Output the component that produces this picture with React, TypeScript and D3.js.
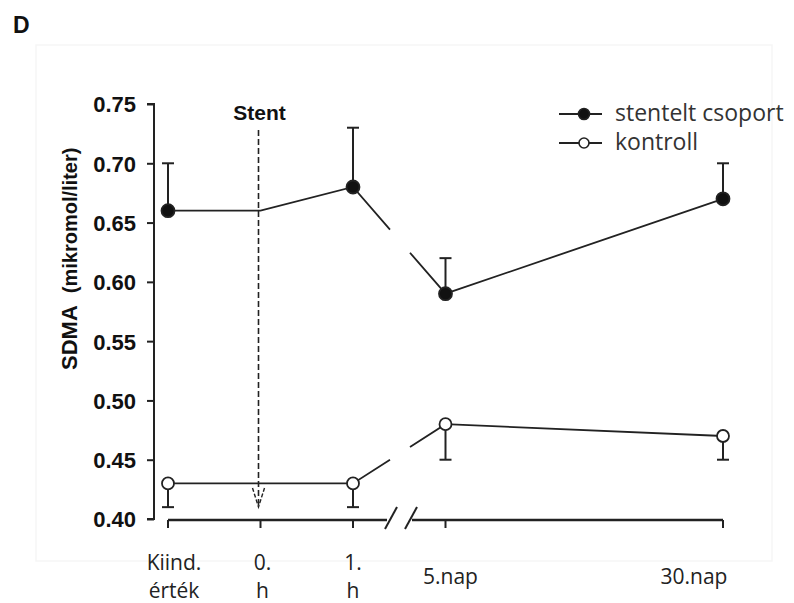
import { useRef, useEffect } from 'react'
import * as d3 from 'd3'

// time points along the x axis (slot = position on the broken axis)
const categories = [['Kiind.', 'érték'], ['0.', 'h'], ['1.', 'h'], ['5.nap'], ['30.nap']]
const slots = [0, 1, 2, 3, 6]
const hasMarker = [true, false, true, true, true]

const stentMean = [0.66, 0.66, 0.68, 0.59, 0.67]
const stentUpper = [0.7, null, 0.73, 0.62, 0.7]
const kontrollMean = [0.43, 0.43, 0.43, 0.48, 0.47]
const kontrollLower = [0.41, null, 0.41, 0.45, 0.45]

const yTicks = [0.4, 0.45, 0.5, 0.55, 0.6, 0.65, 0.7, 0.75]
const legendLabels = ['stentelt csoport', 'kontroll']

const width = 794
const height = 603
const ink = '#222'

function draw(target) {
  const svg = d3.select(target)
  svg.selectAll('*').remove()

  const x = d3.scaleLinear().domain([0, 6]).range([168, 723])
  const y = d3.scaleLinear().domain([0.4, 0.75]).range([519, 104])
  const breakLo = 390
  const breakHi = 410

  // faint frame
  svg.append('rect').attr('x', 36).attr('y', 45).attr('width', 736).attr('height', 516)
    .attr('fill', 'none').attr('stroke', '#f6f6f6').attr('stroke-width', 1.5)

  svg.append('text').attr('x', 13).attr('y', 33).text('D')
    .attr('font-family', 'Liberation Sans, Arial, sans-serif').attr('font-weight', 'bold')
    .attr('font-size', 23).attr('fill', '#111')

  // y axis
  const yAxis = d3.axisLeft(y).tickValues(yTicks).tickSize(7).tickPadding(11).tickFormat(d3.format('.2f'))
  const gy = svg.append('g').attr('transform', 'translate(154,0)').call(yAxis)
  gy.select('.domain').attr('d', `M-7,${y(0.75)}H0V${y(0.4)}H-7`).attr('stroke', ink).attr('stroke-width', 2)
  gy.selectAll('.tick line').attr('stroke', ink).attr('stroke-width', 2)
  gy.selectAll('.tick text')
    .attr('font-family', 'Liberation Sans, Arial, sans-serif').attr('font-weight', 'bold')
    .attr('font-size', 22).attr('fill', '#111').attr('dy', '0.36em')

  // y label
  const yl = svg.append('text').attr('transform', 'translate(77,370) rotate(-90)')
    .attr('font-family', 'Liberation Sans, Arial, sans-serif').attr('font-weight', 'bold').attr('fill', '#111')
  yl.append('tspan').attr('font-size', 22).text('SDMA')
  yl.append('tspan').attr('font-size', 20).attr('dx', 12).text('(mikromol/liter)')

  // x axis with break
  const xa = svg.append('g').attr('stroke', ink).attr('stroke-width', 2.5).attr('fill', 'none')
  xa.append('line').attr('x1', x(0)).attr('x2', breakLo - 3).attr('y1', 520).attr('y2', 520)
  xa.append('line').attr('x1', breakHi + 2).attr('x2', x(6)).attr('y1', 520).attr('y2', 520)
  slots.forEach((s) => {
    xa.append('line').attr('x1', x(s)).attr('x2', x(s)).attr('y1', 520).attr('y2', 528).attr('stroke-width', 2)
  })
  ;[breakLo - 5, breakHi - 5].forEach((bx) => {
    xa.append('line').attr('x1', bx).attr('y1', 529).attr('x2', bx + 12).attr('y2', 507).attr('stroke-width', 2)
  })

  // x labels
  const labelDx = [6, 2, 0, 5, -29]
  const labelY = [570, 570, 570, 584, 584]
  categories.forEach((lines, i) => {
    const t = svg.append('text').attr('x', x(slots[i]) + labelDx[i]).attr('y', labelY[i])
      .attr('text-anchor', 'middle').attr('font-family', 'Open Sans, sans-serif')
      .attr('font-size', 21).attr('fill', '#222')
    lines.forEach((l, j) => {
      t.append('tspan').attr('x', x(slots[i]) + labelDx[i]).attr('dy', j === 0 ? 0 : 28).text(l)
    })
  })

  // stent marker
  const sx = x(1) - 2
  svg.append('line').attr('x1', sx).attr('x2', sx).attr('y1', 130).attr('y2', 505)
    .attr('stroke', ink).attr('stroke-width', 1.6).attr('stroke-dasharray', '6,3')
  svg.append('path').attr('d', `M${sx - 6},488L${sx},507L${sx + 6},488`)
    .attr('fill', 'none').attr('stroke', ink).attr('stroke-width', 1.4).attr('stroke-dasharray', '4,2')
  svg.append('text').attr('x', sx + 1).attr('y', 120).attr('text-anchor', 'middle').text('Stent')
    .attr('font-family', 'Liberation Sans, Arial, sans-serif').attr('font-weight', 'bold')
    .attr('font-size', 21).attr('fill', '#111')

  const line = d3.line().x((d) => d[0]).y((d) => d[1])

  function series(mean, err, filled) {
    const pts = mean.map((v, i) => [x(slots[i]), y(v)])
    const a = pts[2]
    const b = pts[3]
    const at = (px) => [px, a[1] + ((b[1] - a[1]) * (px - a[0])) / (b[0] - a[0])]
    const g = svg.append('g')
    g.append('path').attr('d', line([pts[0], pts[1], pts[2], at(breakLo)]))
      .attr('fill', 'none').attr('stroke', ink).attr('stroke-width', 1.8)
    g.append('path').attr('d', line([at(breakHi), pts[3], pts[4]]))
      .attr('fill', 'none').attr('stroke', ink).attr('stroke-width', 1.8)

    err.forEach((e, i) => {
      if (e === null) return
      const px = pts[i][0]
      g.append('line').attr('x1', px).attr('x2', px).attr('y1', pts[i][1]).attr('y2', y(e))
        .attr('stroke', ink).attr('stroke-width', 2)
      g.append('line').attr('x1', px - 6).attr('x2', px + 6).attr('y1', y(e)).attr('y2', y(e))
        .attr('stroke', ink).attr('stroke-width', 2)
    })

    g.selectAll('circle').data(pts.filter((p, i) => hasMarker[i])).enter().append('circle')
      .attr('cx', (d) => d[0]).attr('cy', (d) => d[1]).attr('r', filled ? 6.5 : 6)
      .attr('fill', filled ? '#111' : '#fff').attr('stroke', ink).attr('stroke-width', 1.8)
  }

  series(stentMean, stentUpper, true)
  series(kontrollMean, kontrollLower, false)

  // legend
  legendLabels.forEach((label, i) => {
    const ly = i === 0 ? 114 : 143
    const g = svg.append('g')
    g.append('line').attr('x1', 559).attr('x2', 602).attr('y1', ly).attr('y2', ly)
      .attr('stroke', ink).attr('stroke-width', 2)
    g.append('circle').attr('cx', 584).attr('cy', ly).attr('r', i === 0 ? 5.5 : 5)
      .attr('fill', i === 0 ? '#111' : '#fff').attr('stroke', ink).attr('stroke-width', 1.6)
    g.append('text').attr('x', 615).attr('y', ly + 7).text(label)
      .attr('font-family', 'Open Sans, sans-serif').attr('font-size', 23).attr('fill', '#333')
  })
}

export default function App() {
  const target = useRef(null)

  useEffect(() => {
    draw(target.current)
  }, [])

  return (
    <div style={{ position: 'absolute', left: 0, top: 0 }}>
      <svg ref={target} width={width} height={height} style={{ display: 'block', background: '#fff' }} />
    </div>
  )
}
